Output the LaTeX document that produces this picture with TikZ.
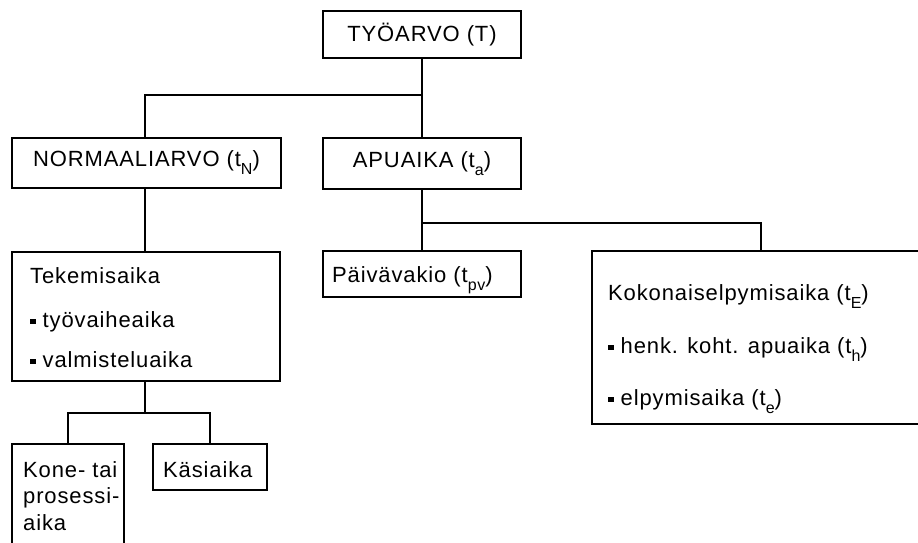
\documentclass[tikz,border=0pt]{standalone}
\usepackage{fontspec}
\setmainfont{Liberation Sans}[LetterSpace=4]
% lowered index letter after a t, and a small square bullet
\newcommand\lo[1]{\raisebox{-8pt}{\fontsize{16pt}{16pt}\selectfont #1}}
\newcommand\sqb{\rule[3pt]{5.5pt}{5.5pt}\hspace{7pt}}
\begin{document}
\begin{tikzpicture}[x=1pt,y=-1pt,
  box/.style={draw, rectangle, line width=1.7pt, inner sep=0pt},
  lbl/.style={anchor=base west, inner sep=0pt},
  wire/.style={line width=1.7pt},
  font=\fontsize{22pt}{26pt}\selectfont]
\clip (0,0) rectangle (918,542);
\fill[white] (0,0) rectangle (918,542);

% boxes
\node[box, minimum width=198pt, minimum height=47pt] (T) at (422,34.5) {TYÖARVO (T)};
\node[box, minimum width=269pt, minimum height=50pt] (N) at (146.5,163) {NORMAALIARVO (t\lo{N})};
\node[box, minimum width=198pt, minimum height=51pt] (A) at (422,163.5) {APUAIKA (t\lo{a})};
\node[box, minimum width=198pt, minimum height=46pt] (P) at (422,274) {};
\node[box, minimum width=338pt, minimum height=173pt] (K) at (761,337.5) {};
\node[box, minimum width=268pt, minimum height=129pt] (Tek) at (146,316.5) {};
\node[box, minimum width=112pt, minimum height=116pt] (Kone) at (68,502) {};
\node[box, minimum width=114pt, minimum height=46pt] (Kasi) at (210,467) {};

% texts inside the boxes
\node[lbl] (Ptx) at (332,282) {Päivävakio (t\lo{pv})};
\node[lbl] (K1) at (608,300) {Kokonaiselpymisaika (t\lo{E})};
\node[lbl] (K2) at (608,353) {\sqb henk. koht. apuaika (t\lo{h})};
\node[lbl] (K3) at (608,405) {\sqb elpymisaika (t\lo{e})};
\node[lbl] (Tk1) at (30,283) {Tekemisaika};
\node[lbl] (Tk2) at (30,327) {\sqb työvaiheaika};
\node[lbl] (Tk3) at (30,367) {\sqb valmisteluaika};
\node[lbl] (Ko1) at (23,477) {Kone- tai};
\node[lbl] (Ko2) at (23,503.5) {prosessi-};
\node[lbl] (Ko3) at (23,530) {aika};
\node[lbl] (Ks) at (163,477) {Käsiaika};

% connectors
\coordinate (j1) at (T.south |- 0,95);
\coordinate (j2) at (A.south |- 0,223);
\coordinate (j3) at (145,413);
\draw[wire] (T.south) -- (A.north);
\draw[wire] (j1) -| (j3 |- N.north);
\draw[wire] (j3 |- N.south) -- (j3 |- Tek.north);
\draw[wire] (A.south) -- (P.north);
\draw[wire] (j2) -| (K.north);
\draw[wire] (Tek.south -| j3) -- (j3);
\draw[wire] (Kone.north) |- (Kasi.north |- j3) -- (Kasi.north);
\end{tikzpicture}
\end{document}
